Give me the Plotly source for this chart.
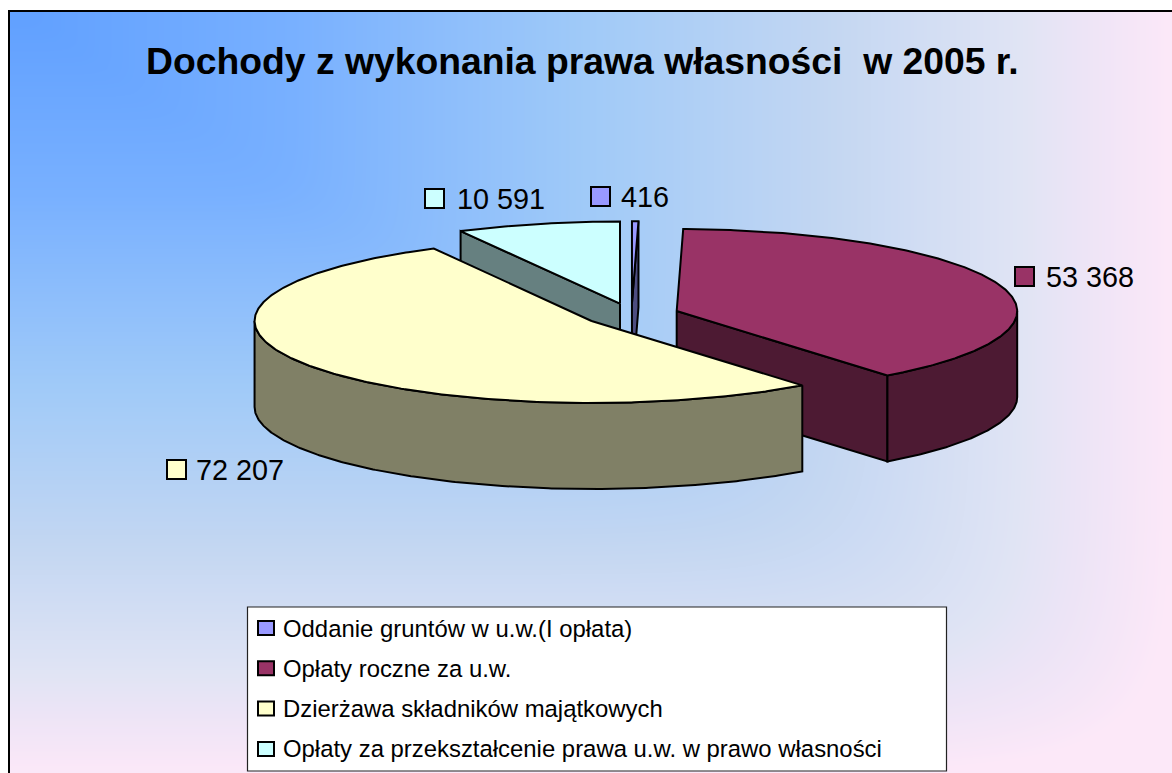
import numpy as np
import plotly.graph_objects as go

TITLE = "Dochody z wykonania prawa własności  w 2005 r."
CATEGORIES = ["Oddanie gruntów w u.w.(I opłata)", "Opłaty roczne za u.w.",
              "Dzierżawa składników majątkowych",
              "Opłaty za przekształcenie prawa u.w. w prawo własności"]
VALUES = [416, 53368, 72207, 10591]
VALUE_LABELS = ["416", "53 368", "72 207", "10 591"]
TOP_COLORS = ["#9999ff", "#993366", "#ffffcc", "#ccffff"]
WALL_COLORS = ["#4d4d80", "#4d1a33", "#808066", "#668080"]

W, H = 1172, 773
CX, CY, RX, RY, DEPTH, EXPLODE = 631.5, 314.7, 340.5, 82.0, 86.0, 0.14
RX_FAR_LEFT = 337.0  # the large slice is slightly foreshortened on its far side

total = sum(VALUES)
edges = np.concatenate([[0], np.cumsum(VALUES)]) / total * 360.0


def rim(i, a, b):
    mid = np.radians((edges[i] + edges[i + 1]) / 2)
    ox = CX + EXPLODE * RX * np.sin(mid)
    oy = CY - EXPLODE * RY * np.cos(mid)
    t = np.radians(np.linspace(a, b, max(2, int(abs(b - a) * 2) + 1)))
    s = np.sin(t)
    rx = np.where((s < 0) & (i == 2), RX_FAR_LEFT, RX)
    return ox + rx * s, oy - RY * np.cos(t), ox, oy


fig = go.Figure()

# background gradient, starting from the top-left corner, inside the frame
gx = np.linspace(9, W, 91)
gy = np.linspace(11, H, 61)
cx = (gx[:-1] + gx[1:]) / 2
cy = (gy[:-1] + gy[1:]) / 2
gz = ((cx[None, :] / W) ** 12 + (cy[:, None] / H) ** 12) ** (1 / 12)
fig.add_trace(go.Heatmap(
    x=gx, y=gy, z=gz, zmin=0, zmax=1, zsmooth="best", showscale=False, hoverinfo="skip",
    colorscale=[[0, "#5f9fff"], [0.25, "#78b0ff"], [0.5, "#a0caf8"], [0.7, "#c2d6f2"],
                [0.87, "#e0e4f4"], [0.92, "#ece4f6"], [1, "#fce8f8"]]))


def poly(xs, ys, color, name):
    fig.add_trace(go.Scatter(x=xs, y=ys, mode="lines", fill="toself", fillcolor=color,
                             line=dict(color="black", width=2), name=name,
                             showlegend=False, hoverinfo="skip"))


def top(i):
    xs, ys, ox, oy = rim(i, edges[i], edges[i + 1])
    poly(np.r_[ox, xs, ox], np.r_[oy, ys, oy], TOP_COLORS[i], CATEGORIES[i])


def rim_wall(i, a, b):
    xs, ys, _, _ = rim(i, a, b)
    poly(np.r_[xs, xs[::-1], xs[0]], np.r_[ys, ys[::-1] + DEPTH, ys[0]], WALL_COLORS[i], CATEGORIES[i])


def edge_wall(i, ang):
    xs, ys, ox, oy = rim(i, ang, ang)
    px = [ox, xs[0], xs[0], ox, ox]
    py = [oy, ys[0], ys[0] + DEPTH, oy + DEPTH, oy]
    poly(px, py, WALL_COLORS[i], CATEGORIES[i])


edge_wall(3, edges[3])
top(3)
edge_wall(0, edges[1])
top(0)
edge_wall(1, edges[2])
rim_wall(1, 90, edges[2])
top(1)
rim_wall(2, edges[2], 270)
top(2)

shapes = [
    dict(type="rect", xref="x", yref="y", x0=247.5, x1=946.5, y0=607, y1=771,
         fillcolor="white", line=dict(color="#222222", width=1.2), layer="above"),
    dict(type="rect", xref="x", yref="y", x0=9, x1=W + 5, y0=11, y1=H + 5,
         fillcolor="rgba(0,0,0,0)", line=dict(color="black", width=2), layer="above"),
]
annotations = [dict(x=582.5, y=61, text=f"<b>{TITLE}</b>", showarrow=False, xanchor="center",
                    yanchor="middle", font=dict(size=37.3, color="black"))]


def key(x0, y0, w, h, color):
    shapes.append(dict(type="rect", xref="x", yref="y", x0=x0, x1=x0 + w, y0=y0, y1=y0 + h,
                       fillcolor=color, line=dict(color="black", width=2), layer="above"))


LABEL_KEYS = [(591, 187), (1015, 267), (167, 460), (425, 189)]
LABEL_TEXT_X = [619, 1044, 194, 455]
for i, lab in enumerate(VALUE_LABELS):
    kx, ky = LABEL_KEYS[i]
    key(kx, ky, 19, 19, TOP_COLORS[i])
    annotations.append(dict(x=LABEL_TEXT_X[i], y=ky + 10, text=lab, showarrow=False,
                            xanchor="left", yanchor="middle", font=dict(size=28.8, color="black")))

for i, cat in enumerate(CATEGORIES):
    yc = 628 + i * 40.3
    key(258, yc - 7, 16, 14, TOP_COLORS[i])
    annotations.append(dict(x=281, y=yc, text=cat, showarrow=False, xanchor="left",
                            yanchor="middle", font=dict(size=23.9, color="black")))

fig.update_layout(
    width=W, height=H, margin=dict(l=0, r=0, t=0, b=0), paper_bgcolor="white", plot_bgcolor="white",
    font=dict(family="Liberation Sans, Arial, sans-serif"),
    xaxis=dict(range=[0, W], visible=False, fixedrange=True),
    yaxis=dict(range=[H, 0], visible=False, fixedrange=True),
    shapes=shapes, annotations=annotations, showlegend=False)

fig.write_html("out.html", config={"displayModeBar": False},
               post_script="document.body.style.margin='0';document.body.style.overflow='hidden';")
